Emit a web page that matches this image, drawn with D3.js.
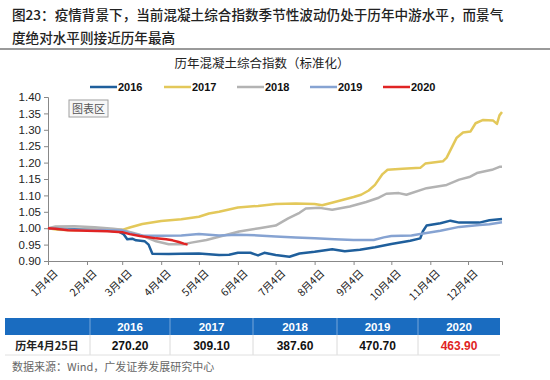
<!DOCTYPE html>
<html><head><meta charset="utf-8">
<script src="https://cdn.jsdelivr.net/npm/d3@7"></script>
<style>
body{margin:0;background:#fff;}
svg{display:block;}
text{font-family:"Liberation Sans",Arial,sans-serif;}
.cjk{font-family:"Noto Sans CJK SC",sans-serif;}
</style></head><body>
<svg id="c" width="550" height="380"></svg>
<script>
const titleLines = ["图23：疫情背景下，当前混凝土综合指数季节性波动仍处于历年中游水平，而景气","度绝对水平则接近历年最高"];
const chartTitle = "历年混凝土综合指数（标准化）";
const years = ["2016","2017","2018","2019","2020"];
const colors = ["#1f5f9c","#e3c85a","#b3b3b3","#86a3d2","#e02424"];
const yTicks = [0.90,0.95,1.00,1.05,1.10,1.15,1.20,1.25,1.30,1.35,1.40];
const xTickMonths = [1,2,3,4,5,6,7,8,9,10,11,12];
const rowLabel = "历年4月25日";
const tableValues = ["270.20","309.10","387.60","470.70","463.90"];
const source = "数据来源：Wind，广发证券发展研究中心";

const s2016 = [["01-04",1.000],["01-15",0.998],["02-04",0.995],["02-20",0.993],["03-01",0.990],["03-05",0.982],["03-08",0.966],["03-12",0.968],["03-15",0.963],["03-22",0.960],["03-25",0.950],["03-28",0.922],["04-10",0.921],["04-20",0.922],["05-04",0.923],["05-20",0.918],["05-28",0.919],["06-04",0.925],["06-14",0.925],["06-20",0.917],["06-25",0.925],["07-04",0.918],["07-15",0.913],["07-23",0.923],["08-04",0.928],["08-18",0.936],["08-28",0.930],["09-09",0.934],["09-21",0.942],["10-04",0.952],["10-19",0.962],["10-27",0.969],["10-29",0.990],["11-01",1.008],["11-12",1.015],["11-20",1.023],["11-27",1.017],["12-13",1.017],["12-21",1.024],["12-31",1.028]];
const s2017 = [["01-04",1.000],["01-12",0.995],["01-25",0.994],["02-04",0.995],["02-20",0.996],["03-04",0.995],["03-10",1.002],["03-20",1.013],["04-04",1.022],["04-20",1.027],["05-04",1.035],["05-12",1.045],["05-20",1.050],["06-04",1.063],["06-20",1.068],["07-04",1.074],["07-20",1.075],["08-04",1.074],["08-10",1.070],["08-20",1.080],["09-04",1.095],["09-10",1.102],["09-16",1.115],["09-21",1.132],["09-27",1.165],["10-01",1.178],["10-13",1.181],["10-27",1.184],["10-31",1.197],["11-14",1.204],["11-17",1.215],["11-25",1.276],["11-30",1.292],["12-06",1.295],["12-10",1.320],["12-16",1.330],["12-24",1.328],["12-27",1.318],["12-29",1.344],["12-31",1.354]];
const s2018 = [["01-04",1.000],["01-10",1.005],["01-25",1.006],["02-10",1.003],["02-25",0.998],["03-04",0.995],["03-18",0.980],["03-31",0.960],["04-10",0.951],["04-22",0.951],["04-28",0.956],["05-10",0.964],["05-20",0.974],["06-05",0.990],["06-21",1.000],["07-04",1.008],["07-14",1.030],["07-23",1.047],["07-28",1.060],["08-08",1.062],["08-18",1.056],["09-01",1.066],["09-14",1.080],["09-24",1.093],["09-30",1.105],["10-10",1.107],["10-16",1.102],["11-01",1.122],["11-17",1.132],["11-27",1.148],["12-05",1.156],["12-11",1.168],["12-23",1.178],["12-29",1.187],["12-31",1.187]];
const s2019 = [["01-04",1.000],["01-20",0.996],["02-04",0.995],["02-20",0.994],["03-04",0.993],["03-10",0.985],["03-20",0.977],["04-04",0.977],["04-20",0.978],["05-04",0.982],["05-20",0.978],["06-04",0.980],["06-20",0.978],["07-04",0.975],["07-20",0.972],["08-04",0.969],["08-20",0.966],["09-04",0.964],["09-20",0.964],["09-28",0.972],["10-04",0.976],["10-20",0.978],["10-27",0.982],["11-12",0.992],["11-27",1.004],["12-13",1.010],["12-21",1.012],["12-31",1.018]];
const s2020 = [["01-04",1.000],["01-10",0.998],["01-20",0.994],["02-04",0.992],["02-20",0.991],["03-04",0.988],["03-10",0.982],["03-18",0.976],["03-31",0.969],["04-08",0.966],["04-13",0.963],["04-18",0.958],["04-22",0.953],["04-25",0.950]];
const seriesList = [s2016,s2017,s2018,s2019,s2020];

const svg = d3.select("#c");
const parse = d3.timeParse("%Y-%m-%d");
const d = s => parse("2019-" + s);

// header
svg.selectAll("text.hdr").data(titleLines).join("text")
  .attr("class","cjk").attr("x",12).attr("y",(v,i)=>20+i*23)
  .attr("font-size",13.6).attr("fill","#222").attr("font-weight",500).text(v=>v);
svg.append("line").attr("x1",0).attr("x2",550).attr("y1",49).attr("y2",49).attr("stroke","#9a9a9a").attr("stroke-width",2);

const x = d3.scaleTime().domain([d("01-04"), d("12-31")]).range([48, 502]);
const y = d3.scaleLinear().domain([0.90, 1.40]).range([261, 97]);

svg.append("text").attr("class","cjk").attr("x",262).attr("y",68).attr("text-anchor","middle")
  .attr("font-size",12.5).attr("fill","#222").text(chartTitle);

// legend
const legX = [90,164,237,310,383];
const leg = svg.selectAll("g.leg").data(years).join("g").attr("transform",(v,i)=>`translate(${legX[i]},87)`);
leg.append("line").attr("x1",0).attr("x2",27).attr("stroke",(v,i)=>colors[i]).attr("stroke-width",2.5);
leg.append("text").attr("x",28).attr("y",4).attr("font-size",11).attr("font-weight","bold").attr("fill","#111").text(v=>v);

// axes
const yAxis = d3.axisLeft(y).tickValues(yTicks).tickFormat(d3.format(".2f")).tickSize(4).tickPadding(3);
const gy = svg.append("g").attr("transform","translate(48,0)").call(yAxis);
gy.selectAll("text").attr("font-size",11.5).attr("fill","#222");
gy.selectAll("line,path").attr("stroke","#888");

const xAxis = d3.axisBottom(x).tickValues(xTickMonths.map(m=>new Date(2019,m-1,4))).tickFormat(t=>(t.getMonth()+1)+"月4日").tickSize(4);
const gx = svg.append("g").attr("transform","translate(0,261)").call(xAxis);
gx.selectAll("line,path").attr("stroke","#888");
gx.selectAll("text").attr("class","cjk").attr("font-size",10.5).attr("fill","#222")
  .attr("text-anchor","end").attr("dy",0).attr("dx",0)
  .attr("transform","translate(5,8) rotate(-45)");

// 图表区 box
svg.append("rect").attr("x",69).attr("y",100).attr("width",39).attr("height",17).attr("fill","#f7f7f7").attr("stroke","#a0a0a0").attr("stroke-width",1);
svg.append("text").attr("class","cjk").attr("x",88.5).attr("y",112.5).attr("text-anchor","middle").attr("font-size",11).attr("fill","#555").text("图表区");

// lines
const line = d3.line().x(p=>x(d(p[0]))).y(p=>y(p[1]));
svg.selectAll("path.s").data(seriesList).join("path").attr("class","s")
  .attr("d",line).attr("fill","none").attr("stroke",(v,i)=>colors[i]).attr("stroke-width",2.5).attr("stroke-linejoin","round");

// table
const colEdges = [5,90,170,253,337,418,500];
svg.append("rect").attr("x",5).attr("y",318).attr("width",495).attr("height",17).attr("fill","#1a6cc0");
svg.selectAll("line.hsep").data(colEdges.slice(1,-1)).join("line").attr("class","hsep")
  .attr("x1",v=>v).attr("x2",v=>v).attr("y1",318).attr("y2",335).attr("stroke","#8fb6e0").attr("stroke-width",0.8);
svg.selectAll("line.dsep").data(colEdges.slice(1,-1)).join("line").attr("class","dsep")
  .attr("x1",v=>v).attr("x2",v=>v).attr("y1",335).attr("y2",355).attr("stroke","#d0d0d0").attr("stroke-width",0.8);
svg.append("line").attr("x1",5).attr("x2",500).attr("y1",355).attr("y2",355).attr("stroke","#e0e0e0");
svg.selectAll("text.th").data(years).join("text").attr("class","th")
  .attr("x",(v,i)=>(colEdges[i+1]+colEdges[i+2])/2).attr("y",331).attr("text-anchor","middle")
  .attr("font-size",11.5).attr("font-weight","bold").attr("fill","#fff").text(v=>v);
svg.append("text").attr("class","cjk").attr("x",47).attr("y",350).attr("text-anchor","middle")
  .attr("font-size",11).attr("font-weight","bold").attr("fill","#222").text(rowLabel);
svg.selectAll("text.td").data(tableValues).join("text").attr("class","td")
  .attr("x",(v,i)=>(colEdges[i+1]+colEdges[i+2])/2).attr("y",350).attr("text-anchor","middle")
  .attr("font-size",12).attr("font-weight","bold").attr("fill",(v,i)=>i===4?"#e02424":"#111").text(v=>v);

svg.append("text").attr("class","cjk").attr("x",12).attr("y",371).attr("font-size",11).attr("fill","#666").text(source);
</script></body></html>
